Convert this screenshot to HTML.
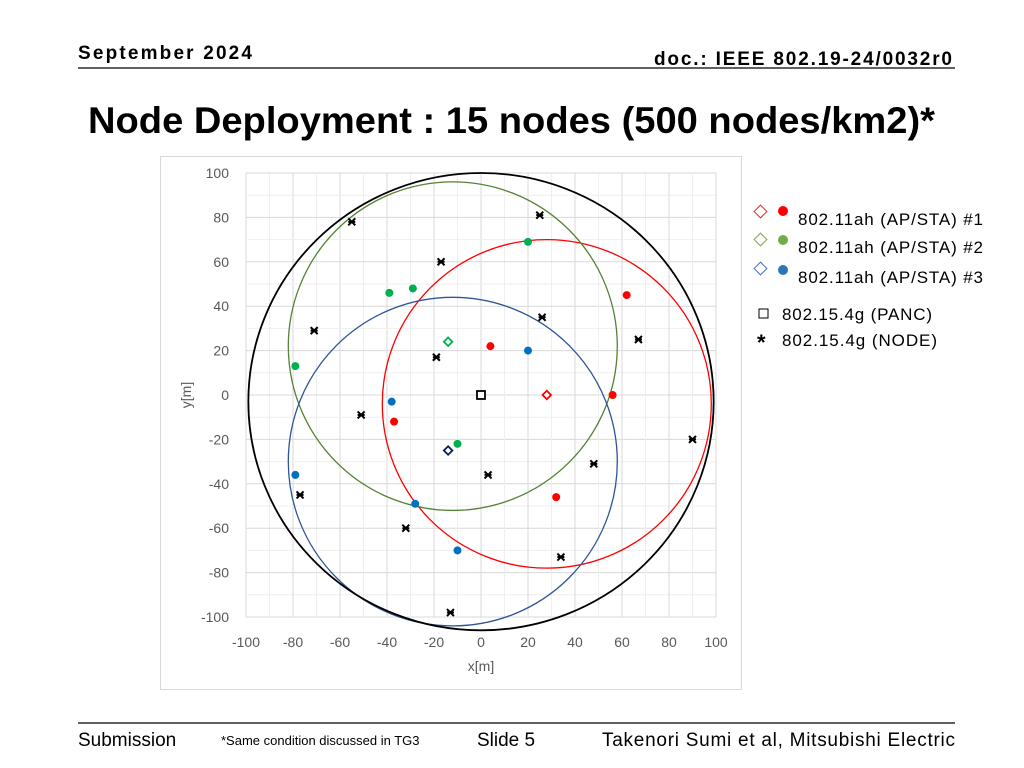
<!DOCTYPE html>
<html><head><meta charset="utf-8"><style>
html,body{margin:0;padding:0;background:#fff;}
svg{display:block;font-family:"Liberation Sans",sans-serif;}
</style></head><body>
<svg id="s" width="1024" height="768" viewBox="0 0 1024 768">
<text x="78" y="59" font-size="19" font-weight="bold" textLength="174">September 2024</text>
<text x="654" y="65" font-size="19" font-weight="bold" textLength="298">doc.: IEEE 802.19-24/0032r0</text>
<line x1="78" y1="68" x2="955" y2="68" stroke="#000" stroke-width="1.2"/>
<text x="88" y="133" font-size="37" font-weight="bold" textLength="847" lengthAdjust="spacingAndGlyphs">Node Deployment : 15 nodes (500 nodes/km2)*</text>
<rect x="160.5" y="156.5" width="581" height="533" fill="#fff" stroke="#d9d9d9"/>
<g id="grid"></g>
<g id="ticks"></g>
<g id="circles"></g>
<g id="marks"></g>
<text x="481" y="671" font-size="14" fill="#595959" text-anchor="middle">x[m]</text>
<text x="191" y="395" font-size="14" fill="#595959" text-anchor="middle" transform="rotate(-90 191 395)">y[m]</text>
<g>
<g><rect x="756" y="207" width="9" height="9" fill="none" stroke="#e03030" transform="rotate(45 760.5 211.5)"/><circle cx="783" cy="211" r="5" fill="#ff0000"/><text x="798" y="225" font-size="17" textLength="185">802.11ah (AP/STA) #1</text></g>
<g><rect x="756" y="235" width="9" height="9" fill="none" stroke="#70ad47" transform="rotate(45 760.5 239.5)"/><circle cx="783" cy="240" r="5" fill="#70ad47"/><text x="798" y="253" font-size="17" textLength="185">802.11ah (AP/STA) #2</text></g>
<g><rect x="756" y="264" width="9" height="9" fill="none" stroke="#4472c4" transform="rotate(45 760.5 268.5)"/><circle cx="783" cy="270" r="5" fill="#2e75b6"/><text x="798" y="283" font-size="17" textLength="185">802.11ah (AP/STA) #3</text></g>
<g><rect x="759" y="309" width="9" height="9" fill="none" stroke="#000"/><text x="782" y="320" font-size="17" textLength="150">802.15.4g (PANC)</text></g>
<g><text x="757" y="350" font-size="22" font-weight="bold">*</text><text x="782" y="346" font-size="17" textLength="155">802.15.4g (NODE)</text></g>
</g>
<line x1="78" y1="723" x2="955" y2="723" stroke="#000" stroke-width="1.2"/>
<text x="78" y="746" font-size="19">Submission</text>
<text x="221" y="745" font-size="13">*Same condition discussed in TG3</text>
<text x="477" y="746" font-size="19">Slide 5</text>
<text x="602" y="746" font-size="19" textLength="353">Takenori Sumi et al, Mitsubishi Electric</text>
</svg>
<script>
const xTicks=[-100,-80,-60,-40,-20,0,20,40,60,80,100];
const yTicks=[-100,-80,-60,-40,-20,0,20,40,60,80,100];
const nodeX=[-55,25,-17,-71,26,67,-19,-51,90,48,3,-77,-32,34,-13];
const nodeY=[78,81,60,29,35,25,17,-9,-20,-31,-36,-45,-60,-73,-98];
const redX=[4,62,56,-37,32];
const redY=[22,45,0,-12,-46];
const greenX=[20,-39,-29,-79,-10];
const greenY=[69,46,48,13,-22];
const blueX=[20,-38,-79,-28,-10];
const blueY=[20,-3,-36,-49,-70];
const apX=[28,-14,-14];
const apY=[0,24,-25];
const apColors=["#ff0000","#00b050","#002060"];
const circCX=[28,-12,-12,0];
const circCY=[-4,22,-30,-3];
const circRX=[70,70,70,99];
const circRY=[74,74,74,103];
const circColors=["#ff0000","#548235","#2f5597","#000000"];
const sx=v=>481+v*2.35, sy=v=>395-v*2.22;
const NS="http://www.w3.org/2000/svg";
function mk(tag,attrs,parent){const e=document.createElementNS(NS,tag);for(const k in attrs)e.setAttribute(k,attrs[k]);parent.appendChild(e);return e;}
const grid=document.getElementById('grid'),ticks=document.getElementById('ticks'),circles=document.getElementById('circles'),marks=document.getElementById('marks');
for(let v=-100;v<=100;v+=10){
  const major=v%20===0;
  const a=mk('line',{x1:sx(v),x2:sx(v),y1:sy(100),y2:sy(-100),stroke:major?'#d9d9d9':'#efefef'},grid);
  
  
  const b=mk('line',{x1:sx(-100),x2:sx(100),y1:sy(v),y2:sy(v),stroke:major?'#d9d9d9':'#efefef'},grid);
  
  
}
xTicks.forEach(v=>{const t=mk('text',{x:sx(v),y:647,'font-size':14,fill:'#595959','text-anchor':'middle'},ticks);t.textContent=v;

});
yTicks.forEach(v=>{const t=mk('text',{x:229,y:sy(v)+5,'font-size':14,fill:'#595959','text-anchor':'end'},ticks);t.textContent=v;

});
circCX.forEach((c,i)=>{const e=mk('ellipse',{cx:sx(c),cy:sy(circCY[i]),rx:circRX[i]*2.35,ry:circRY[i]*2.22,fill:'none',stroke:circColors[i],'stroke-width':i===3?1.8:1.3},circles);

});
function dots(xs,ys,col,name){xs.forEach((x,i)=>{const c=mk('circle',{cx:sx(x),cy:sy(ys[i]),r:4,fill:col},marks);

});}
dots(redX,redY,'#ff0000','sta-1-point');
dots(greenX,greenY,'#00b050','sta-2-point');
dots(blueX,blueY,'#0070c0','sta-3-point');
apX.forEach((x,i)=>{const px=sx(x),py=sy(apY[i]);const r=mk('rect',{x:px-3,y:py-3,width:6,height:6,fill:'#fff',stroke:apColors[i],'stroke-width':1.8,transform:`rotate(45 ${px} ${py})`},marks);

});
const pq=mk('rect',{x:sx(0)-4,y:sy(0)-4,width:8,height:8,fill:'#fff',stroke:'#000','stroke-width':1.8},marks);


nodeX.forEach((x,i)=>{const px=sx(x),py=sy(nodeY[i]);const g=mk('path',{d:`M${px-3.5} ${py-3.5}L${px+3.5} ${py+3.5}M${px+3.5} ${py-3.5}L${px-3.5} ${py+3.5}M${px-3.5} ${py}L${px+3.5} ${py}`,stroke:'#000','stroke-width':2},marks);

});
</script>
</body></html>
